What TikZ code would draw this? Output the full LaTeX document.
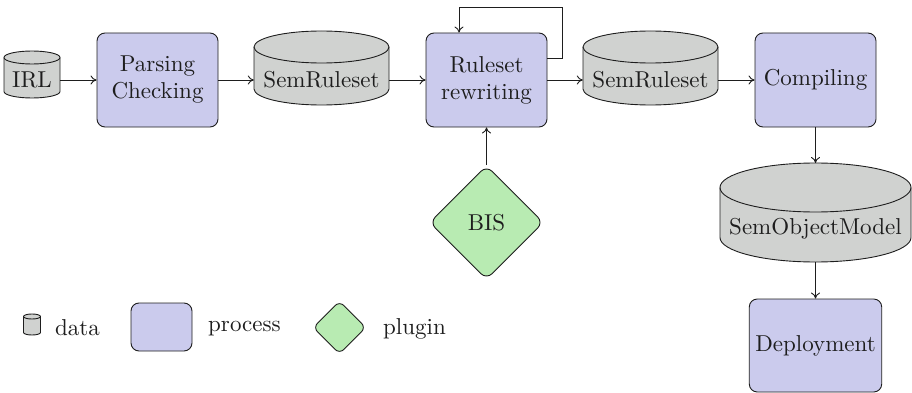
\documentclass[tikz,border=0pt]{standalone}
\usepackage{fontspec}
\setmainfont{lmroman10-regular}[Extension=.otf]
\usetikzlibrary{shapes.geometric,arrows.meta,calc}

\definecolor{procfill}{RGB}{203,203,237}
\definecolor{datafill}{RGB}{208,210,208}
\definecolor{plugfill}{RGB}{184,235,178}
\definecolor{linecol}{RGB}{30,30,30}

\tikzset{
  every node/.style={font=\fontsize{23}{27}\selectfont, text=linecol},
  lineset/.style={line width=0.9pt, draw=linecol},
  procbox/.style={lineset, fill=procfill, rectangle, rounded corners=8pt,
    minimum width=121pt, minimum height=94pt, align=center, inner sep=4pt},
  plugbox/.style={lineset, fill=plugfill, diamond, rounded corners=8pt,
    minimum size=114pt, inner sep=0pt},
  datanode/.style={inner sep=0pt, minimum height=0pt},
  arr/.style={lineset, -{To[length=6pt,width=9pt]}},
}

% data store: centre x, top-ellipse centre y, bottom-ellipse centre y, half width, radius y
\newcommand{\datacyl}[5]{%
  \path[lineset, fill=datafill] (#1-#4,#2) -- (#1-#4,#3)
     arc[start angle=180, end angle=360, x radius=#4, y radius=#5]
     -- (#1+#4,#2)
     arc[start angle=0, end angle=180, x radius=#4, y radius=#5] -- cycle;
  \draw[lineset] (#1-#4,#2)
     arc[start angle=180, end angle=360, x radius=#4, y radius=#5];
}

\begin{document}
\begin{tikzpicture}[x=1pt,y=1pt]
\useasboundingbox (0,0) rectangle (912,-393);

% data stores
\datacyl{32}{-57.5}{-91.5}{28}{6.5}
\node[datanode, minimum width=56pt] (irl) at (32,-80) {IRL};
\datacyl{321.5}{-47}{-89}{67.5}{16}
\node[datanode, minimum width=135pt] (sr1) at (321.5,-80) {SemRuleset};
\datacyl{650.5}{-47}{-89}{67.5}{16}
\node[datanode, minimum width=135pt] (sr2) at (650.5,-80) {SemRuleset};
\datacyl{815.5}{-187.5}{-237.5}{95.5}{24.5}
\node[datanode, minimum width=191pt] (som) at (815.5,-229) {SemObjectModel};
\coordinate (somtop) at (815.5,-163);
\coordinate (sombot) at (815.5,-262);

% processes
\node[procbox] (pc) at (157.5,-80) {Parsing\\Checking};
\node[procbox] (rr) at (486.5,-80) {Ruleset\\rewriting};
\node[procbox] (cp) at (815.5,-80) {Compiling};
\node[procbox, minimum height=93pt, inner sep=6pt] (dp) at (815.5,-345.5) {Deployment};

% plugin
\node[plugbox] (bis) at (486.5,-222.5) {BIS};

% flow
\draw[arr] (irl.east) -- (pc.west);
\draw[arr] (pc.east) -- (sr1.west);
\draw[arr] (sr1.east) -- (rr.west);
\draw[arr] (rr.east) -- (sr2.west);
\draw[arr] (sr2.east) -- (cp.west);
\draw[arr] (cp.south) -- (somtop);
\draw[arr] (sombot) -- (dp.north);
\draw[arr] (bis.north) -- (rr.south);
\draw[arr] ([yshift=22pt]rr.east) -- ++(15pt,0) -- ++(0,51pt)
  -| ([xshift=-27.5pt]rr.north);

% legend
\datacyl{32}{-316.5}{-332.5}{8.5}{2.5}
\coordinate (legdata) at (32,-324.5);
\node[anchor=base west, inner sep=0pt] (legdatatxt) at (55,-335) {data};
\node[procbox, minimum width=61pt, minimum height=48pt] (legproc) at (161.5,-327) {};
\node[anchor=base west, inner sep=0pt] (legproctxt) at (208,-331.7) {process};
\node[plugbox, minimum size=53pt, rounded corners=6pt] (legplug) at (339.5,-327.5) {};
\node[anchor=base west, inner sep=0pt] (legplugtxt) at (383,-334) {plugin};
\end{tikzpicture}
\end{document}
